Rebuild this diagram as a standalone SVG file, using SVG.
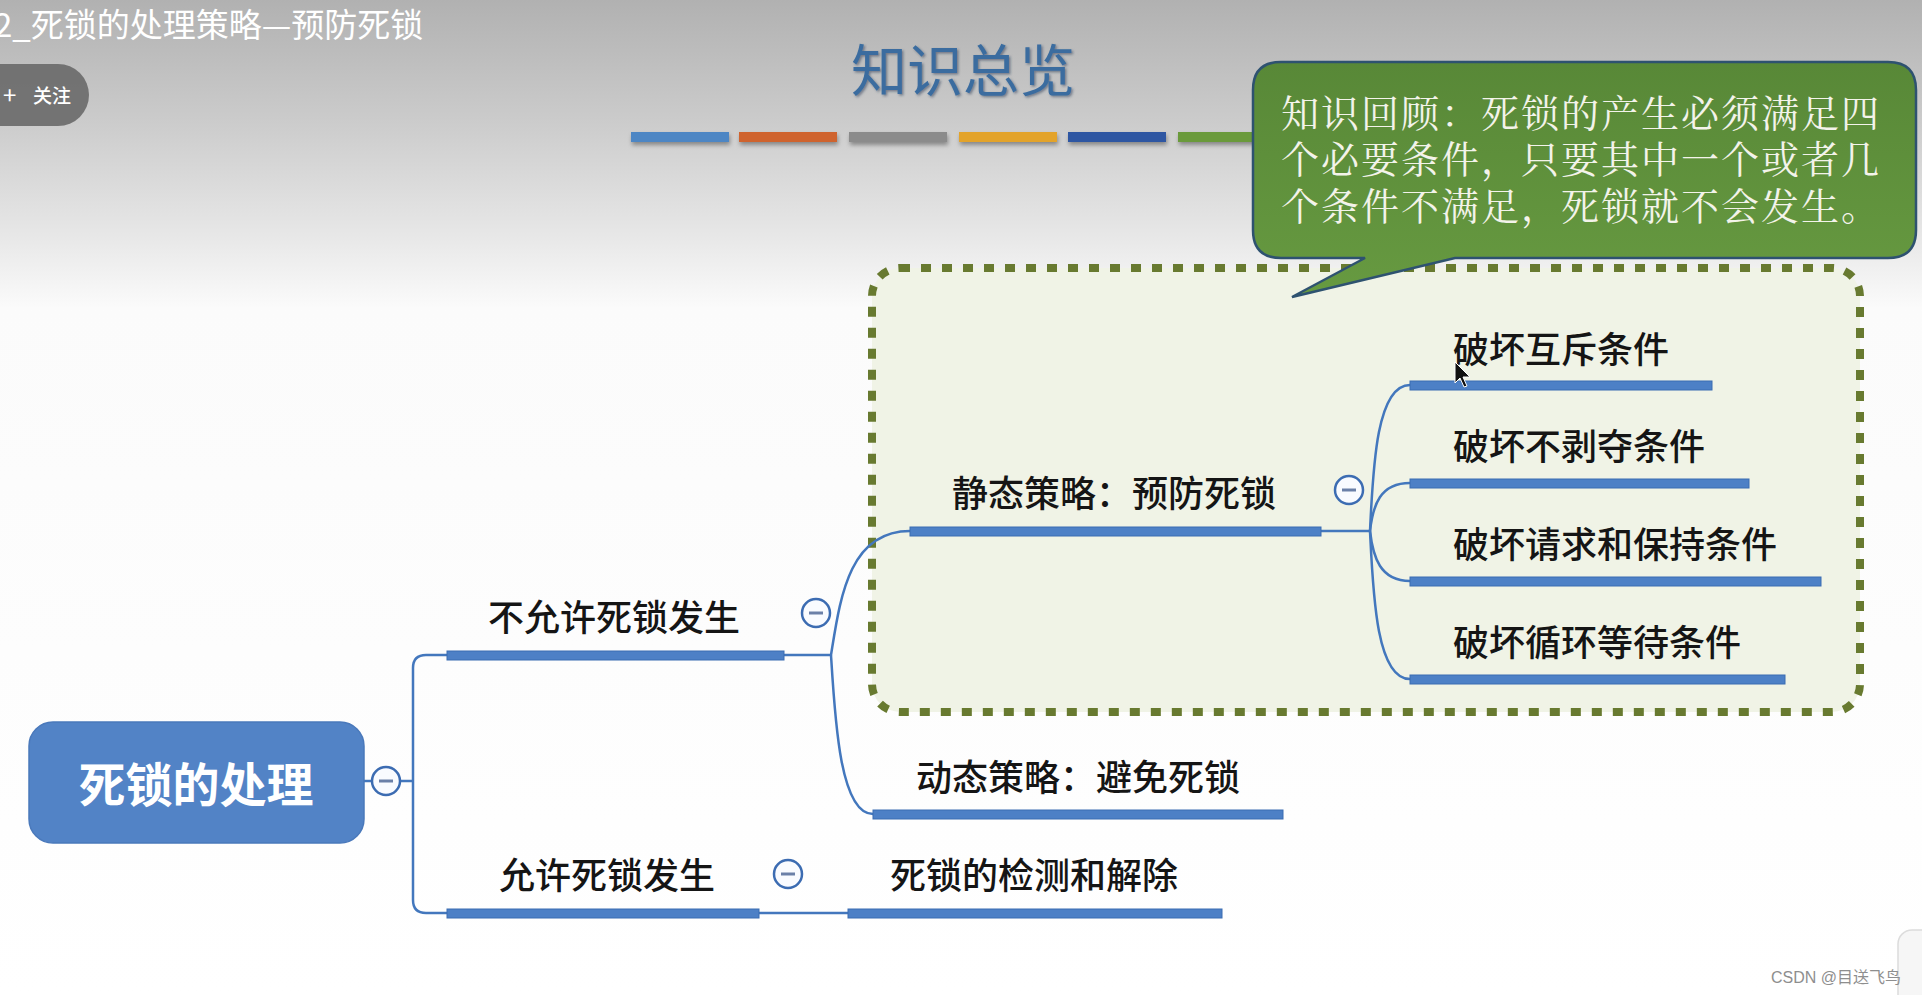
<svg xmlns="http://www.w3.org/2000/svg" width="1922" height="995" viewBox="0 0 1922 995">
<defs>
<linearGradient id="bg" x1="0" y1="0" x2="0" y2="1">
<stop offset="0" stop-color="#b1b1b1"/>
<stop offset="0.12" stop-color="#cbcbcb"/>
<stop offset="0.24" stop-color="#e8e8e8"/>
<stop offset="0.31" stop-color="#fbfbfb"/>
<stop offset="1" stop-color="#ffffff"/>
</linearGradient>
<linearGradient id="bub" x1="0" y1="0" x2="0" y2="1">
<stop offset="0" stop-color="#588837"/>
<stop offset="1" stop-color="#679a41"/>
</linearGradient>
<filter id="sh" x="-5%" y="-50%" width="110%" height="250%">
<feDropShadow dx="1" dy="3" stdDeviation="2" flood-color="#000" flood-opacity="0.35"/>
</filter>
<filter id="tsh" x="-5%" y="-20%" width="110%" height="140%">
<feDropShadow dx="1.5" dy="1.5" stdDeviation="1" flood-color="#1c3350" flood-opacity="0.5"/>
</filter>
</defs>
<style>
.t{font-family:"Noto Sans CJK SC","Noto Sans",sans-serif;font-size:36px;font-weight:500;fill:#151515}
.bar{fill:#4d80c6;stroke:#3b6cb2;stroke-width:1}
.ln{fill:none;stroke:#4377bd;stroke-width:2.5}
.cc{fill:#f9fbff;stroke:#3c6cb2;stroke-width:2.5}
.mn{stroke:#6b80a8;stroke-width:3}
.cb{stroke:none}
.bt{font-family:"Noto Serif CJK SC","Noto Sans CJK SC",serif;font-size:38px;letter-spacing:2px;fill:#f3f3ea}
</style>
<rect width="1922" height="995" fill="url(#bg)"/>

<!-- header -->
<g id="header">
<text x="-6" y="37" font-family="Noto Sans CJK SC, sans-serif" font-size="33" fill="#ffffff">2_死锁的处理策略—预防死锁</text>
<rect x="-40" y="64" width="129" height="62" rx="31" fill="#6b6b6b" opacity="0.92"/>
<text x="3" y="104" font-family="Noto Sans CJK SC, sans-serif" font-size="24" fill="#ffffff">+</text>
<text x="33" y="103" font-family="Noto Sans CJK SC, sans-serif" font-size="19" font-weight="500" fill="#ffffff">关注</text>
<text x="963" y="91" text-anchor="middle" font-family="Noto Sans CJK SC, sans-serif" font-size="56" fill="#3b6c9f" filter="url(#tsh)">知识总览</text>
<g filter="url(#sh)">
<rect class="cb" x="631" y="132" width="98" height="10" fill="#4e86c4"/>
<rect class="cb" x="739" y="132" width="98" height="10" fill="#cf642d"/>
<rect class="cb" x="849" y="132" width="98" height="10" fill="#8b8b8b"/>
<rect class="cb" x="959" y="132" width="98" height="10" fill="#e3a32a"/>
<rect class="cb" x="1068" y="132" width="98" height="10" fill="#2f57a2"/>
<rect class="cb" x="1178" y="132" width="98" height="10" fill="#6a9a3a"/>
</g>
</g>

<!-- dashed group box -->
<g id="group-box">
<rect x="872" y="268" width="988" height="444" rx="28" fill="#f0f3e6" stroke="#687a30" stroke-width="8" stroke-dasharray="10 11"/>
</g>

<!-- connectors -->
<g id="connectors">
<path class="ln" d="M364 781 H413"/>
<path class="ln" d="M447 655 H426 Q413 655 413 668 V900 Q413 913 426 913 H447"/>
<path class="ln" d="M784 655 H831"/>
<path class="ln" d="M831 655 C840 600 848 531 910 531"/>
<path class="ln" d="M831 655 C835 720 840 814 873 814"/>
<path class="ln" d="M1321 531 H1370"/>
<path class="ln" d="M1370 531 C1373 470 1376 385 1410 385"/>
<path class="ln" d="M1370 531 C1373 505 1380 483 1410 483"/>
<path class="ln" d="M1370 531 C1373 557 1380 581 1410 581"/>
<path class="ln" d="M1370 531 C1373 592 1376 679 1410 679"/>
<path class="ln" d="M759 913 H848"/>
</g>

<!-- root -->
<g id="root">
<rect x="29" y="722" width="335" height="121" rx="24" fill="#5283c6" stroke="#4a79bb" stroke-width="1.5"/>
<text x="196" y="802" text-anchor="middle" font-family="Noto Sans CJK SC, sans-serif" font-size="47" font-weight="bold" fill="#ffffff">死锁的处理</text>
<circle class="cc" cx="386" cy="781" r="14"/><line class="mn" x1="379" y1="781" x2="393" y2="781"/>
</g>

<g id="n-not-allow">
<rect class="bar" x="447" y="651" width="337" height="9"/>
<text class="t" x="488" y="631">不允许死锁发生</text>
<circle class="cc" cx="816" cy="613" r="14"/><line class="mn" x1="809" y1="613" x2="823" y2="613"/>
</g>

<g id="n-static">
<rect class="bar" x="910" y="527" width="411" height="9"/>
<text class="t" x="952" y="507">静态策略：预防死锁</text>
<circle class="cc" cx="1349" cy="490" r="14"/><line class="mn" x1="1342" y1="490" x2="1356" y2="490"/>
</g>

<g id="n-c1">
<rect class="bar" x="1410" y="381" width="302" height="9"/>
<text class="t" x="1453" y="363">破坏互斥条件</text>
</g>
<g id="n-c2">
<rect class="bar" x="1410" y="479" width="339" height="9"/>
<text class="t" x="1453" y="460">破坏不剥夺条件</text>
</g>
<g id="n-c3">
<rect class="bar" x="1410" y="577" width="411" height="9"/>
<text class="t" x="1453" y="558">破坏请求和保持条件</text>
</g>
<g id="n-c4">
<rect class="bar" x="1410" y="675" width="375" height="9"/>
<text class="t" x="1453" y="656">破坏循环等待条件</text>
</g>

<g id="n-dynamic">
<rect class="bar" x="873" y="810" width="410" height="9"/>
<text class="t" x="916" y="791">动态策略：避免死锁</text>
</g>

<g id="n-allow">
<rect class="bar" x="447" y="909" width="312" height="9"/>
<text class="t" x="499" y="889">允许死锁发生</text>
<circle class="cc" cx="788" cy="874" r="14"/><line class="mn" x1="781" y1="874" x2="795" y2="874"/>
</g>

<g id="n-detect">
<rect class="bar" x="848" y="909" width="374" height="9"/>
<text class="t" x="890" y="889">死锁的检测和解除</text>
</g>

<!-- callout bubble -->
<g id="callout">
<path d="M1281 62 H1888 Q1916 62 1916 90 V230 Q1916 258 1888 258 H1455 L1292 297 L1365 258 H1281 Q1253 258 1253 230 V90 Q1253 62 1281 62 Z" fill="url(#bub)" stroke="#2e5270" stroke-width="2.5"/>
<text class="bt" x="1281" y="127">知识回顾：死锁的产生必须满足四</text>
<text class="bt" x="1281" y="173">个必要条件，只要其中一个或者几</text>
<text class="bt" x="1281" y="220">个条件不满足，死锁就不会发生。</text>
</g>

<!-- mouse cursor -->
<path d="M1455 362 V383 L1460 378 L1464 387 L1467 386 L1463 377 L1470 377 Z" fill="#111" stroke="#fff" stroke-width="1"/>

<!-- edge element & watermark -->
<rect x="1898" y="930" width="40" height="80" rx="14" fill="#f6f6f6" stroke="#dcdcdc" stroke-width="1.5"/>
<text x="1771" y="983" font-family="Liberation Sans, Noto Sans CJK SC, sans-serif" font-size="16" fill="#8e8e8e">CSDN @目送飞鸟</text>
</svg>
